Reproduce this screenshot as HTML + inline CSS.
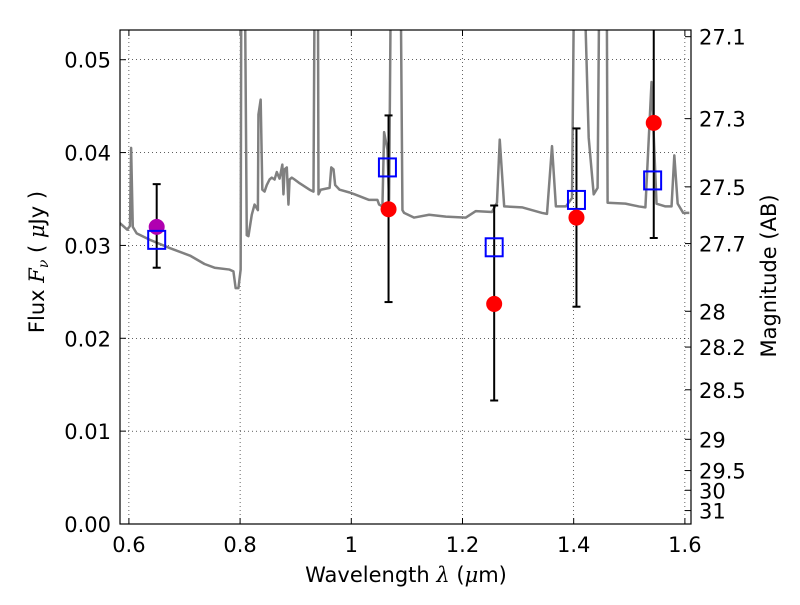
<!DOCTYPE html>
<html><head><meta charset="utf-8"><style>
body{margin:0;background:#fff}
svg text{font-family:"DejaVu Sans","Liberation Sans",sans-serif;fill:#000}
</style></head><body>
<svg id="c" width="800" height="600" xmlns="http://www.w3.org/2000/svg"></svg>
<script>
const specWave=[0.584,0.597,0.602,0.604,0.607,0.614,0.638,0.674,0.710,0.736,0.754,0.781,0.788,0.792,0.797,0.801,0.803,0.806,0.812,0.815,0.821,0.826,0.832,0.833,0.837,0.840,0.844,0.848,0.853,0.857,0.862,0.866,0.871,0.876,0.878,0.880,0.884,0.887,0.889,0.893,0.898,0.907,0.925,0.932,0.936,0.939,0.941,0.945,0.961,0.964,0.968,0.971,0.979,0.997,1.006,1.032,1.047,1.050,1.056,1.059,1.065,1.068,1.074,1.086,1.092,1.095,1.113,1.140,1.170,1.206,1.224,1.253,1.262,1.267,1.275,1.307,1.343,1.352,1.361,1.368,1.386,1.397,1.404,1.409,1.427,1.436,1.443,1.449,1.458,1.461,1.493,1.517,1.529,1.540,1.549,1.565,1.576,1.581,1.587,1.597,1.608];
const specFlux=[0.0324,0.0317,0.0321,0.0405,0.0320,0.0313,0.0306,0.0297,0.0289,0.0280,0.0276,0.0274,0.0272,0.0254,0.0254,0.0274,0.08,0.08,0.0311,0.0310,0.0333,0.0344,0.0338,0.0441,0.0457,0.0360,0.0358,0.0365,0.0371,0.0373,0.0371,0.0379,0.0372,0.0387,0.0355,0.0382,0.0384,0.0344,0.0371,0.0373,0.0371,0.0367,0.0360,0.0358,0.08,0.08,0.0355,0.0360,0.0362,0.0384,0.0382,0.0365,0.0360,0.0357,0.0355,0.0349,0.0349,0.0344,0.0342,0.0422,0.0403,0.0349,0.08,0.08,0.0338,0.0335,0.0330,0.0333,0.0331,0.0330,0.0337,0.0336,0.0346,0.0414,0.0342,0.0341,0.0335,0.0334,0.0407,0.0342,0.0342,0.0351,0.08,0.08,0.0416,0.0355,0.0362,0.08,0.08,0.0346,0.0345,0.0342,0.0341,0.0476,0.0345,0.0342,0.0342,0.0397,0.0345,0.0335,0.0335];
const modelWave=[0.650,1.065,1.257,1.405,1.542];
const modelFlux=[0.0306,0.0384,0.0298,0.0349,0.0370];
const obsWave=[1.067,1.257,1.405,1.544];
const obsFlux=[0.0339,0.0237,0.0330,0.0432];
const obsLo=[0.0239,0.0133,0.0234,0.0308];
const obsHi=[0.0440,0.0343,0.0426,0.0560];
const purpWave=[0.650],purpFlux=[0.0320],purpLo=[0.0276],purpHi=[0.0366];
const xTicks=[0.6,0.8,1.0,1.2,1.4,1.6],xTickLabels=["0.6","0.8","1","1.2","1.4","1.6"];
const yTicks=[0,0.01,0.02,0.03,0.04,0.05],yTickLabels=["0.00","0.01","0.02","0.03","0.04","0.05"];
const magTicks=[27.1,27.3,27.5,27.7,28,28.2,28.5,29,29.5,30,31],magLabels=["27.1","27.3","27.5","27.7","28","28.2","28.5","29","29.5","30","31"];
const L=120,R=691,T=30,B=524,X0=0.584,X1=1.611,Y0=0,Y1=0.0532;
const sx=v=>L+(v-X0)/(X1-X0)*(R-L), sy=v=>B-(v-Y0)/(Y1-Y0)*(B-T);
const svg=document.getElementById('c'),NS='http://www.w3.org/2000/svg';
function mk(t,a,p){const e=document.createElementNS(NS,t);for(const k in a)e.setAttribute(k,a[k]);(p||svg).appendChild(e);return e;}
const clip=mk('clipPath',{id:'pc'});mk('rect',{x:L,y:T,width:R-L,height:B-T},clip);
const grid=mk('g',{});
xTicks.forEach((v,i)=>{const x=sx(v);
 mk('line',{x1:x,x2:x,y1:T,y2:B,stroke:'#000','stroke-width':0.6,'stroke-dasharray':'1,3'},grid);
 mk('line',{x1:x,x2:x,y1:B,y2:B-6,stroke:'#000'});mk('line',{x1:x,x2:x,y1:T,y2:T+6,stroke:'#000'});
 const t=mk('text',{x:x,y:B+28,'text-anchor':'middle','font-size':21});t.textContent=xTickLabels[i];
 });
yTicks.forEach((v,i)=>{const y=sy(v);
 if(v>0)mk('line',{x1:L,x2:R,y1:y,y2:y,stroke:'#000','stroke-width':0.6,'stroke-dasharray':'1,3'},grid);
 mk('line',{x1:L,x2:L+6,y1:y,y2:y,stroke:'#000'});
 const t=mk('text',{x:L-9,y:y+8,'text-anchor':'end','font-size':21});t.textContent=yTickLabels[i];
 });
magTicks.forEach((m,i)=>{const y=sy(Math.pow(10,(23.9-m)/2.5));
 mk('line',{x1:R,x2:R-6,y1:y,y2:y,stroke:'#000'});
 const t=mk('text',{x:R+8,y:y+8,'font-size':21});t.textContent=magLabels[i];
 });
const g=mk('g',{'clip-path':'url(#pc)'});
const sp=mk('polyline',{points:specWave.map((w,i)=>sx(w)+','+sy(specFlux[i])).join(' '),fill:'none',stroke:'#808080','stroke-width':2.5,'stroke-linejoin':'round'},g);

function eb(w,lo,hi){const x=sx(w);const e=mk('g',{},g);
 
 mk('line',{x1:x,x2:x,y1:sy(lo),y2:sy(hi),stroke:'#000','stroke-width':2},e);
 [lo,hi].forEach(v=>mk('line',{x1:x-4,x2:x+4,y1:sy(v),y2:sy(v),stroke:'#000','stroke-width':2},e));}
purpWave.forEach((w,i)=>eb(w,purpLo[i],purpHi[i]));
obsWave.forEach((w,i)=>eb(w,obsLo[i],obsHi[i]));
purpWave.forEach((w,i)=>{const c=mk('circle',{cx:sx(w),cy:sy(purpFlux[i]),r:8,fill:'#b000b0'},g);
 });
modelWave.forEach((w,i)=>{const r=mk('rect',{x:sx(w)-8.5,y:sy(modelFlux[i])-9,width:17,height:18,fill:'none',stroke:'#0000ff','stroke-width':2},g);
 });
obsWave.forEach((w,i)=>{const c=mk('circle',{cx:sx(w),cy:sy(obsFlux[i]),r:8,fill:'#ff0000'},g);
 });
const fr=mk('rect',{x:L,y:T,width:R-L,height:B-T,fill:'none',stroke:'#000','stroke-width':1.2});

const xt=mk('text',{x:406,y:582,'text-anchor':'middle','font-size':21});
xt.innerHTML='Wavelength  <tspan font-style="italic" font-family="DejaVu Serif">λ</tspan> (<tspan font-style="italic" font-family="DejaVu Serif">μ</tspan>m)';

const yt=mk('text',{x:0,y:0,'text-anchor':'middle','font-size':21,transform:'translate(44,262) rotate(-90)'});
yt.innerHTML='Flux  <tspan font-style="italic" font-family="DejaVu Serif">F<tspan font-size="14" dy="4">ν</tspan></tspan><tspan dy="-4">  ( </tspan><tspan font-style="italic" font-family="DejaVu Serif">μ</tspan>Jy )';

const rt=mk('text',{x:0,y:0,'text-anchor':'middle','font-size':21,transform:'translate(776,276) rotate(-90)'});
rt.textContent='Magnitude (AB)';

</script>
</body></html>
